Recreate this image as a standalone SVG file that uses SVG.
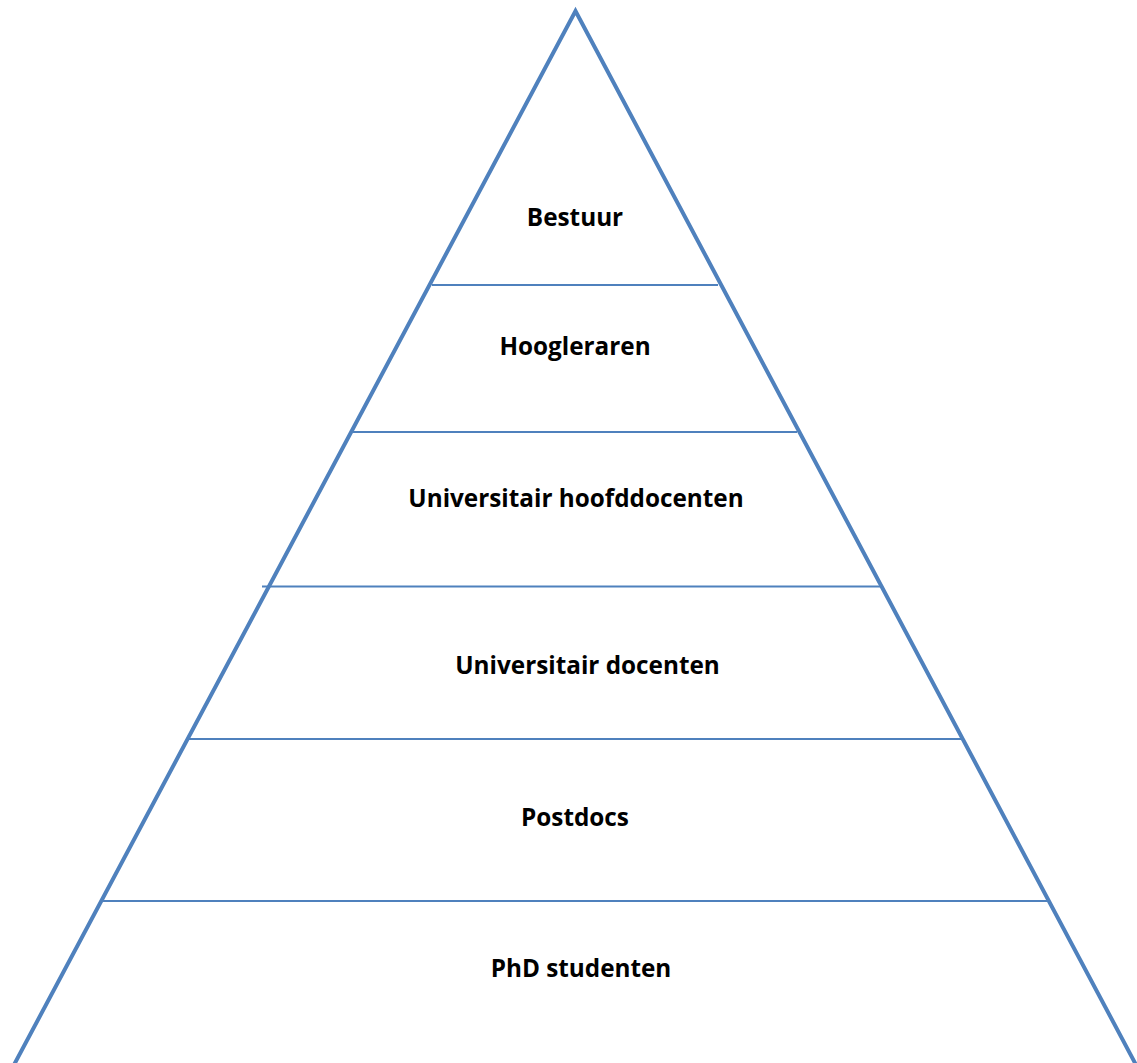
<svg xmlns="http://www.w3.org/2000/svg" width="1137" height="1063" viewBox="0 0 1137 1063">
<style>
.edge{fill:none;stroke:#4f81bd;stroke-width:4;stroke-linejoin:miter}
.div{stroke:#4f81bd;stroke-width:2}
.lbl{font-family:"Open Sans",Lato,"Liberation Sans",sans-serif;font-weight:bold;font-size:24.3px;fill:#000;text-anchor:middle}
</style>
<rect width="1137" height="1063" fill="#fff"/>
<g id="connectors">
<path class="edge" d="M12.3,1068 L575.5,11 L1137.7,1068"/>
<line class="div" x1="432" y1="285" x2="718" y2="285"/>
<line class="div" x1="353" y1="432" x2="797" y2="432"/>
<line class="div" x1="262" y1="586.5" x2="880" y2="586.5"/>
<line class="div" x1="188" y1="739" x2="962" y2="739"/>
<line class="div" x1="102" y1="901" x2="1048" y2="901"/>
</g>
<g id="bestuur"><text class="lbl" x="575" y="226">Bestuur</text></g>
<g id="hoogleraren"><text class="lbl" x="575" y="355">Hoogleraren</text></g>
<g id="uhd"><text class="lbl" x="576" y="507">Universitair hoofddocenten</text></g>
<g id="ud"><text class="lbl" x="587.5" y="674">Universitair docenten</text></g>
<g id="postdocs"><text class="lbl" x="575" y="826">Postdocs</text></g>
<g id="phd"><text class="lbl" x="581" y="977">PhD studenten</text></g>
</svg>
